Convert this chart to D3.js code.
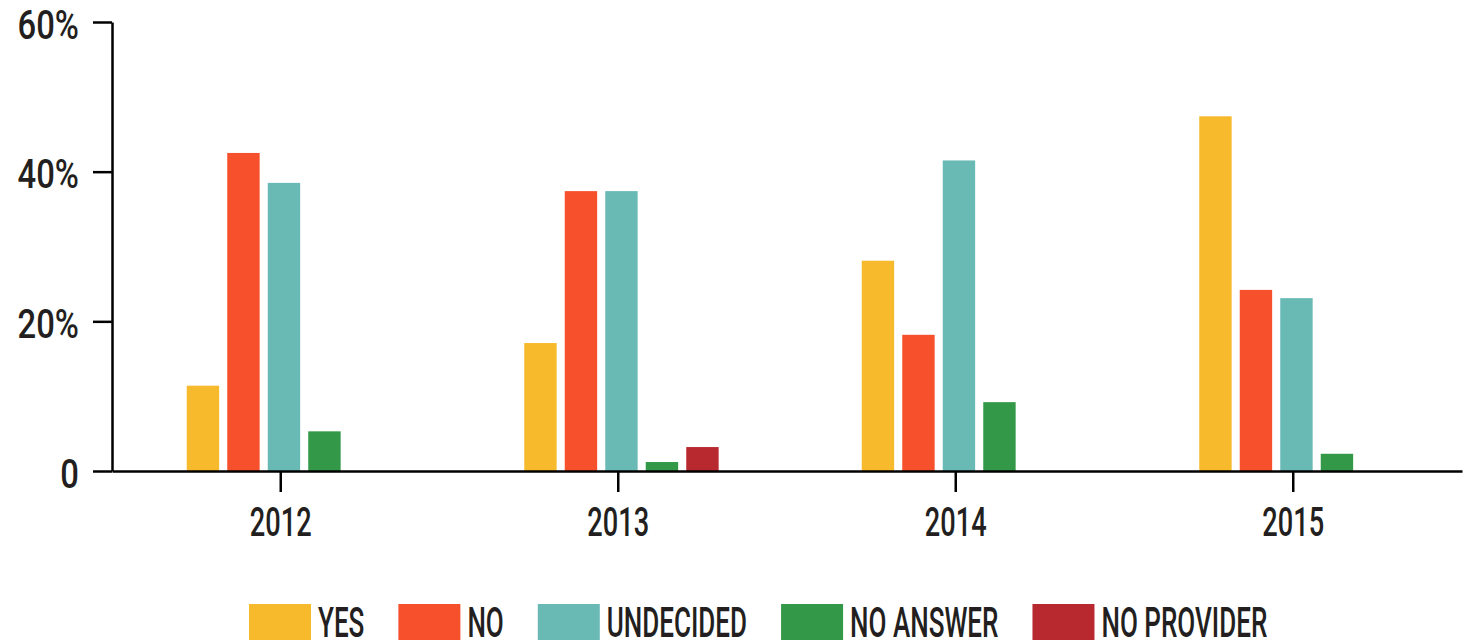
<!DOCTYPE html>
<html>
<head>
<meta charset="utf-8">
<script src="https://cdn.jsdelivr.net/npm/d3@7"></script>
<style>
  html, body { margin: 0; padding: 0; background: #fff; }
  svg { display: block; }
  text { font-family: Roboto, "DejaVu Sans", sans-serif; font-weight: 500; fill: #231f20; }
</style>
</head>
<body>
<svg id="chart" width="1470" height="642"></svg>
<script>
// chart values (percent)
const years = ['2012', '2013', '2014', '2015'];
const seriesNames = ['YES', 'NO', 'UNDECIDED', 'NO ANSWER', 'NO PROVIDER'];
const yesValues = [11.4, 17.1, 28.1, 47.4];
const noValues = [42.5, 37.4, 18.2, 24.2];
const undecidedValues = [38.5, 37.4, 41.5, 23.1];
const noAnswerValues = [5.3, 1.2, 9.2, 2.3];
const noProviderValues = [null, 3.2, null, null];
const yTicks = [0, 20, 40, 60];
const yTickLabels = ['0', '20%', '40%', '60%'];
const colors = ['#f6ba2c', '#f6502d', '#69b9b5', '#339948', '#b8292f'];

const allSeries = [yesValues, noValues, undecidedValues, noAnswerValues, noProviderValues];

const svg = d3.select('#chart');

// scales
const x0 = d3.scaleBand()
  .domain(years)
  .range([112, 1462])
  .padding(0);

const x1 = d3.scaleBand()
  .domain(seriesNames)
  .range([74.75, 269.15])
  .paddingInner(0.2)
  .paddingOuter(0);

const y = d3.scaleLinear()
  .domain([0, 60])
  .range([471, 22]);

const color = d3.scaleOrdinal().domain(seriesNames).range(colors);

// bars
const barData = [];
years.forEach((yr, i) => {
  seriesNames.forEach((name, j) => {
    const v = allSeries[j][i];
    if (v != null) barData.push({ year: yr, key: name, value: v });
  });
});

svg.append('g')
  .selectAll('rect')
  .data(barData)
  .join('rect')
  .attr('x', d => x0(d.year) + x1(d.key))
  .attr('y', d => y(d.value))
  .attr('width', x1.bandwidth())
  .attr('height', d => y(0) - y(d.value))
  .attr('fill', d => color(d.key));

// y axis
const ySx = 0.82;
svg.append('g')
  .attr('transform', 'translate(112,0)')
  .call(d3.axisLeft(y)
    .tickValues(yTicks)
    .tickFormat((d, i) => yTickLabels[i])
    .tickSize(19)
    .tickSizeOuter(0)
    .tickPadding(14))
  .call(g => g.select('.domain').attr('stroke', '#000').attr('stroke-width', 2.5))
  .call(g => g.selectAll('.tick line').attr('stroke', '#000').attr('stroke-width', 2.5))
  .call(g => g.selectAll('.tick text')
    .attr('x', -33 / ySx)
    .attr('dy', '0.4em')
    .attr('transform', `scale(${ySx},1)`)
    .style('font-size', '40px')
    .style('fill', '#231f20'));

// x axis
const xSx = 0.68;
svg.append('g')
  .attr('transform', `translate(0,${y(0)})`)
  .call(d3.axisBottom(x0)
    .tickSize(21)
    .tickSizeOuter(0))
  .call(g => g.select('.domain').attr('stroke', '#000').attr('stroke-width', 2.5))
  .call(g => g.selectAll('.tick line').attr('stroke', '#000').attr('stroke-width', 2.5))
  .call(g => g.selectAll('.tick text')
    .attr('y', 65)
    .attr('dy', 0)
    .attr('transform', `scale(${xSx},1)`)
    .style('font-size', '40px')
    .style('fill', '#231f20'));

// legend
const legSx = 0.62;
const legend = svg.append('g');
let lx = 249;
seriesNames.forEach((name, i) => {
  legend.append('rect')
    .attr('x', lx)
    .attr('y', 604)
    .attr('width', 62)
    .attr('height', 36)
    .attr('fill', color(name));
  const t = legend.append('text')
    .attr('transform', `translate(${lx + 62 + 7},637) scale(${legSx},1)`)
    .style('font-size', '42px')
    .text(name);
  const w = t.node().getComputedTextLength() * legSx;
  lx += 62 + 7 + w + 34;
});
</script>
</body>
</html>
